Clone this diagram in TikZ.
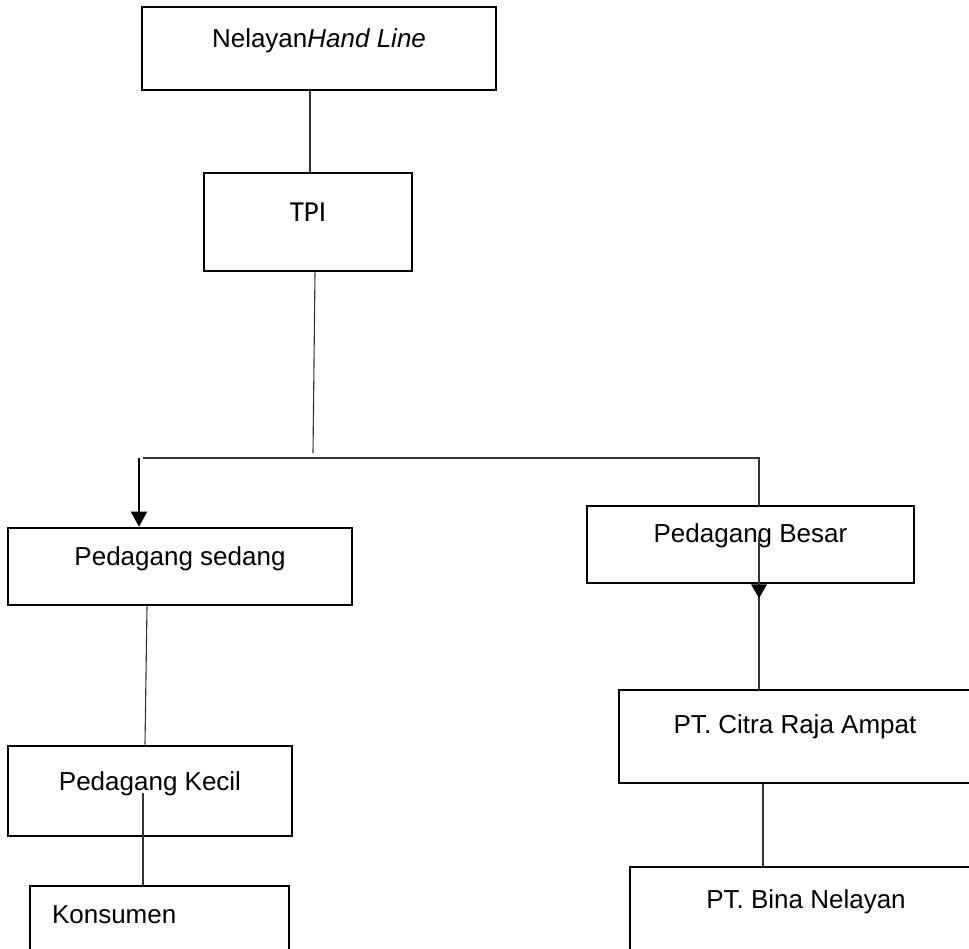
\documentclass[tikz,border=0pt]{standalone}
\usepackage{fontspec}
\setmainfont{Liberation Sans}
\newfontfamily\tpifont{Carlito}
\usetikzlibrary{arrows.meta}
\begin{document}
\begin{tikzpicture}[x=0.5pt,y=-0.5pt,
  box/.style={draw=black,line width=1.3pt,inner sep=0pt,anchor=base,
    font=\fontsize{13pt}{15pt}\selectfont},
  conn/.style={draw=black!80,line width=0.55pt},
  bigarrow/.style={draw=black,line width=1pt,-{Triangle[length=7.5pt,width=8pt]}}]
\useasboundingbox (0,0) rectangle (969,948);
\clip (0,0) rectangle (969,948);
\fill[white] (0,0) rectangle (969,948);
% boxes
\node[box,minimum width=177pt,text height=20pt,text depth=21.5pt] (nel) at (319,47) {Nelayan\textit{Hand Line}};
\node[box,minimum width=104pt,text height=24pt,text depth=25pt,font=\tpifont\fontsize{14.5pt}{16pt}\selectfont] (tpi) at (308,221) {TPI};
\node[box,minimum width=172pt,text height=18.5pt,text depth=20pt] (sedang) at (180,565) {Pedagang sedang};
\node[box,minimum width=163.5pt,text height=18pt,text depth=20.5pt] (besar) at (750.5,542) {Pedagang Besar};
\node[box,minimum width=176pt,text height=21.5pt,text depth=25pt] (citra) at (795,733) {PT. Citra Raja Ampat};
\node[box,minimum width=176pt,text height=20.5pt,text depth=50pt] (bina) at (806,908) {PT. Bina Nelayan};
\node[box,minimum width=142pt,text height=22pt,text depth=23pt] (kecil) at (150,790) {Pedagang Kecil};
\node[box,text width=107.5pt,inner xsep=11pt,align=left,text height=18.5pt,text depth=50pt] (kons) at (159.5,923) {Konsumen};
% helper coordinates
\coordinate (j) at (313,453);
\coordinate (hl) at (143,458);
\coordinate (hr) at (759,458);
\coordinate (al) at (139,458);
\coordinate (bi) at (759,537);
\coordinate (ki) at (143,793);
% connectors
\draw[conn] (nel.south -| 310,0) -- (tpi.north -| 310,0);
\draw[conn] (tpi.south -| 315,0) -- (j);
\draw[conn] (hl) -- (hr) -- (besar.north -| hr);
\draw[bigarrow] (al) -- (sedang.north -| al);
\draw[conn] (bi) -- (citra.north -| bi);
\fill[black] (besar.south -| 751,0) -- (besar.south -| 767,0) -- ([yshift=-7pt]besar.south -| bi) -- cycle;
\draw[conn] (sedang.south -| 147,0) -- (kecil.north -| 145,0);
\draw[conn] (ki) -- (kons.north -| ki);
\draw[conn] (citra.south -| 763,0) -- (bina.north -| 763,0);
\end{tikzpicture}
\end{document}
